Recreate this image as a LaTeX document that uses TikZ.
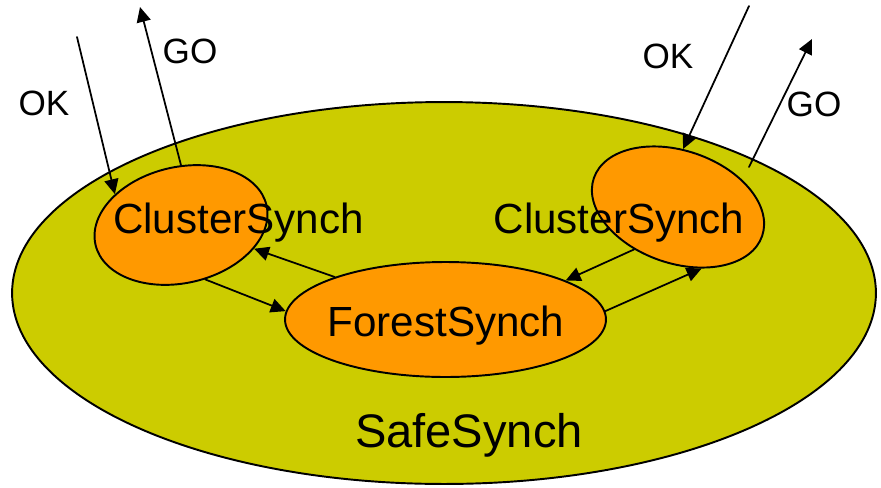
\documentclass[tikz,border=0pt]{standalone}
\usepackage{fontspec}
\setmainfont{Liberation Sans}
\usepackage{xcolor}
\usetikzlibrary{arrows.meta,shapes.geometric}

\begin{document}
\begin{tikzpicture}[x=0.02cm,y=-0.02cm,>={Triangle[length=8.5pt,width=8pt]},line cap=round,line join=round]
	\definecolor{safeolive}{HTML}{CCCC00}
	\definecolor{synchorange}{HTML}{FF9900}
	\tikzset{
		synch/.style={ellipse,draw,line width=1.1pt,inner sep=0pt},
		flow/.style={->,line width=1pt},
		procname/.style={anchor=base,inner sep=0pt,font=\fontsize{24}{28}\selectfont},
		signame/.style={anchor=base,inner sep=0pt,font=\fontsize{20}{24}\selectfont}
	}
	\useasboundingbox (0,0) rectangle (881,487);
	
	% outer process
	\node[synch,fill=safeolive,minimum width=17.28cm,minimum height=7.64cm] (safe) at (444,293) {};
	
	% inner processes
	\node[synch,fill=synchorange,minimum width=3.51cm,minimum height=2.32cm,rotate=13] (clL) at (181,225) {};
	\node[synch,fill=synchorange,minimum width=3.56cm,minimum height=2.25cm,rotate=-19] (clR) at (678,207) {};
	\node[synch,fill=synchorange,minimum width=6.42cm,minimum height=2.30cm] (forest) at (445.5,319.5) {};
	
	% free ends of the signals
	\coordinate (okLin) at (77,37);
	\coordinate (goLout) at (140,7);
	\coordinate (okRin) at (749,6);
	\coordinate (goRfrom) at (749,167);
	\coordinate (goRout) at (812,39);
	
	% signals
	\draw[flow] (okLin) -- (clL.142);
	\draw[flow] (clL.77) -- (goLout);
	\draw[flow] (okRin) -- (clR.104);
	\draw[flow] (goRfrom) -- (goRout);
	
	% cluster <-> forest
	\draw[flow] (forest.159) -- (clL.-31);
	\draw[flow] (clL.-79) -- (forest.177);
	\draw[flow] (clR.-117) -- (forest.18);
	\draw[flow] (forest.3) -- (clR.-50);
	
	% labels
	\node[procname] (clLtxt) at (238.5,233) {ClusterSynch};
	\node[procname] (clRtxt) at (619,233) {ClusterSynch};
	\node[procname] (foresttxt) at (446,336) {ForestSynch};
	\node[procname,font=\fontsize{26.8}{32}\selectfont] (safetxt) at (469,447) {SafeSynch};
	\node[signame] (okL) at (44,115) {OK};
	\node[signame] (goL) at (190,63) {GO};
	\node[signame] (okR) at (668,68) {OK};
	\node[signame] (goR) at (814,116) {GO};
\end{tikzpicture}
\end{document}
